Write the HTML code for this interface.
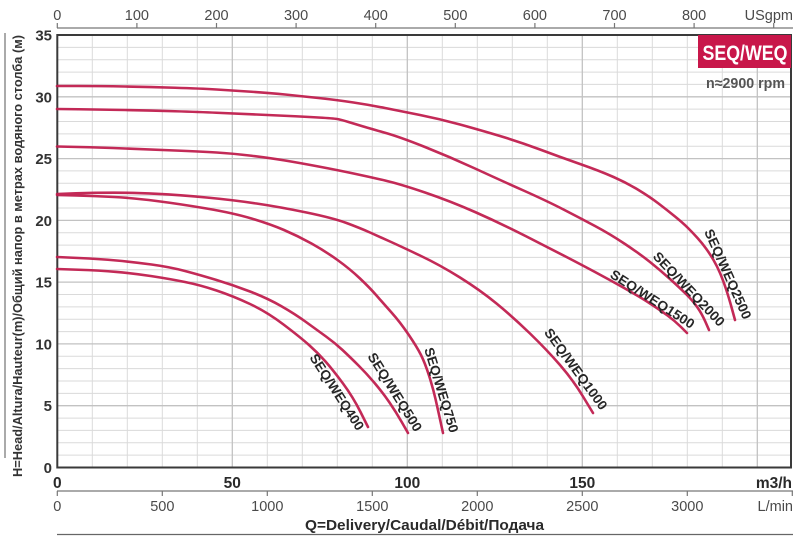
<!DOCTYPE html>
<html><head><meta charset="utf-8"><style>
html,body{margin:0;padding:0;background:#fff;}
svg{display:block;}
text{font-family:"Liberation Sans",sans-serif;}
</style></head><body>
<svg width="800" height="538" viewBox="0 0 800 538" xmlns="http://www.w3.org/2000/svg">
<rect x="0" y="0" width="800" height="538" fill="#fff"/>
<!-- minor grid -->
<g stroke="#dadada" stroke-width="1" fill="none">
<path d="M57 455.1H791M57 442.8H791M57 430.4H791M57 418.1H791M57 393.4H791M57 381H791M57 368.6H791M57 356.3H791M57 331.6H791M57 319.2H791M57 306.9H791M57 294.5H791M57 269.8H791M57 257.4H791M57 245.1H791M57 232.7H791M57 208H791M57 195.6H791M57 183.3H791M57 170.9H791M57 146.2H791M57 133.9H791M57 121.5H791M57 109.1H791M57 84.4H791M57 72.1H791M57 59.7H791M57 47.4H791"/>
<path d="M92.3 35V467.5M127.3 35V467.5M162.3 35V467.5M197.3 35V467.5M267.3 35V467.5M302.3 35V467.5M337.3 35V467.5M372.3 35V467.5M442.3 35V467.5M477.3 35V467.5M512.3 35V467.5M547.3 35V467.5M617.3 35V467.5M652.3 35V467.5M687.3 35V467.5M722.3 35V467.5"/>
</g>
<g stroke="#c2c2c2" stroke-width="1.3" fill="none">
<path d="M57 405.7H791M57 343.9H791M57 282.1H791M57 220.4H791M57 158.6H791M57 96.8H791"/>
<path d="M232.3 35V467.5M407.3 35V467.5M582.3 35V467.5M757.3 35V467.5"/>
</g>
<!-- frame -->
<rect x="57.3" y="35" width="733.7" height="432.5" fill="none" stroke="#3a3a3a" stroke-width="2"/>

<!-- title box -->
<rect x="698" y="35" width="93" height="33" fill="#c8174a"/>
<text x="745" y="60" fill="#fff" font-size="21" font-weight="bold" text-anchor="middle" textLength="85" lengthAdjust="spacingAndGlyphs">SEQ/WEQ</text>
<text x="785" y="88" fill="#555" font-size="15" font-weight="bold" text-anchor="end" textLength="79" lengthAdjust="spacingAndGlyphs">n≈2900 rpm</text>

<!-- curves -->
<g fill="none" stroke="#c01f4f" stroke-width="2.6" stroke-linejoin="round" stroke-linecap="round" opacity="0.95">
<path d="M57,86 L78.5,86 Q100,86 125,86.5 Q150,87 175,87.75 Q200,88.5 216.5,89.5 Q233,90.5 251.5,91.75 Q270,93 285,94.5 Q300,96 318.5,98 Q337,100 353.5,102.5 Q370,105 385,108 Q400,111 420,115 Q440,119 460,124.5 Q480,130 500,136 Q520,142 540,149.5 Q560,157 580,164 Q600,171 613.5,177 Q627,183 638.5,190 Q650,197 658.5,203.5 Q667,210 675,216.5 Q683,223 688,228 Q693,233 697.5,238 Q702,243 706,248.5 Q710,254 713.5,260 Q717,266 720,273 Q723,280 726,289 Q729,298 732,309 L735,320"/>
<path d="M57,109 L78.5,109.25 Q100,109.5 125,110 Q150,110.5 175,111.25 Q200,112 216.5,112.75 Q233,113.5 256.5,114.5 Q280,115.5 295,116.25 Q310,117 322.5,117.75 Q335,118.5 338.5,119.25 Q342,120 348.5,122 Q355,124 362.5,126.25 Q370,128.5 385,132.75 Q400,137 425,147 Q450,157 475,168.5 Q500,180 523.5,190.5 Q547,201 563.5,209.5 Q580,218 595,226 Q610,234 625,244 Q640,254 650,262 Q660,270 670,279 Q680,288 686.5,294.5 Q693,301 697.5,307.5 Q702,314 705.5,322 L709,330"/>
<path d="M57,146.5 L78.5,147 Q100,147.5 125,148.5 Q150,149.5 175,150.5 Q200,151.5 216.5,152.5 Q233,153.5 251.5,155.75 Q270,158 285,160.5 Q300,163 318.5,166.5 Q337,170 353.5,173.5 Q370,177 385,180.5 Q400,184 425,192.5 Q450,201 475,212 Q500,223 526.5,236.5 Q553,250 566.5,257 Q580,264 595,272 Q610,280 625,288.5 Q640,297 650,303.5 Q660,310 667.5,315.5 Q675,321 681,327 L687,333"/>
<path d="M57,194 L76,193.35 Q95,192.7 114,192.7 Q133,192.7 156.5,193.85 Q180,195 206.5,197.5 Q233,200 256.5,203.5 Q280,207 306.5,212.5 Q333,218 346.5,223 Q360,228 370,232.5 Q380,237 390,241.5 Q400,246 420,255.5 Q440,265 460,277.5 Q480,290 496.5,303.5 Q513,317 530,333.5 Q547,350 560,365 Q573,380 583,396.5 L593,413"/>
<path d="M57,195 L76,195.5 Q95,196 114,197 Q133,198 156.5,201 Q180,204 206.5,208.5 Q233,213 251.5,218.5 Q270,224 284,230 Q298,236 311.5,243.5 Q325,251 337.5,260 Q350,269 360,278.5 Q370,288 376.5,295.5 Q383,303 391.5,312.5 Q400,322 408.5,334.5 Q417,347 421,355 Q425,363 429,375.5 Q433,388 435.5,399 Q438,410 440.5,421.5 L443,433"/>
<path d="M57,257 L78.5,258 Q100,259 116.5,260.5 Q133,262 151.5,264.5 Q170,267 185,271 Q200,275 216.5,280 Q233,285 250,291.5 Q267,298 281,306 Q295,314 306,322 Q317,330 326,336.5 Q335,343 342.5,350 Q350,357 358.5,365.5 Q367,374 375,383.5 Q383,393 389.5,402.5 Q396,412 402,422.5 L408,433"/>
<path d="M57,269 L78.5,269.75 Q100,270.5 116.5,271.9 Q133,273.3 151.5,276.15 Q170,279 185,282 Q200,285 216.5,290.5 Q233,296 250,304 Q267,312 283.5,324.5 Q300,337 309,345 Q318,353 325.5,361.5 Q333,370 343,383.5 Q353,397 360.5,412 L368,427"/>
</g>

<!-- curve labels -->
<g fill="#262626" font-size="13.5" font-weight="bold" text-anchor="middle">
<text transform="translate(337,392) rotate(57)" dy="0.35em" textLength="88" lengthAdjust="spacingAndGlyphs">SEQ/WEQ400</text>
<text transform="translate(395,392) rotate(58)" dy="0.35em" textLength="90" lengthAdjust="spacingAndGlyphs">SEQ/WEQ500</text>
<text transform="translate(441.5,390) rotate(73)" dy="0.35em" textLength="88" lengthAdjust="spacingAndGlyphs">SEQ/WEQ750</text>
<text transform="translate(576,369) rotate(54)" dy="0.35em" textLength="97" lengthAdjust="spacingAndGlyphs">SEQ/WEQ1000</text>
<text transform="translate(652.5,299) rotate(32.6)" dy="0.35em" textLength="97" lengthAdjust="spacingAndGlyphs">SEQ/WEQ1500</text>
<text transform="translate(689,289) rotate(46.4)" dy="0.35em" textLength="97" lengthAdjust="spacingAndGlyphs">SEQ/WEQ2000</text>
<text transform="translate(728,274) rotate(66)" dy="0.35em" textLength="97" lengthAdjust="spacingAndGlyphs">SEQ/WEQ2500</text>
</g>

<!-- left axis labels -->
<g fill="#333" font-size="15" font-weight="bold" text-anchor="end">
<text x="52" y="40.5">35</text>
<text x="52" y="102.3">30</text>
<text x="52" y="164.1">25</text>
<text x="52" y="225.9">20</text>
<text x="52" y="287.6">15</text>
<text x="52" y="349.4">10</text>
<text x="52" y="411.2">5</text>
<text x="52" y="473">0</text>
</g>
<line x1="5" y1="33" x2="5" y2="458" stroke="#555" stroke-width="1"/>
<text transform="translate(22,256) rotate(-90)" fill="#333" font-size="13" font-weight="bold" text-anchor="middle" textLength="442" lengthAdjust="spacingAndGlyphs">H=Head/Altura/Hauteur(m)/Общий напор в метрах водяного столба (м)</text>

<!-- top axis USgpm -->
<line x1="57" y1="28" x2="793" y2="28" stroke="#777" stroke-width="1.2"/>
<g stroke="#777" stroke-width="1.2">
<path d="M57.3 28V23M136.9 28V23M216.5 28V23M296.1 28V23M375.7 28V23M455.3 28V23M534.9 28V23M614.5 28V23M694.1 28V23M773.7 28V23"/>
</g>
<g fill="#4a4a4a" font-size="14.5" text-anchor="middle">
<text x="57.3" y="20">0</text>
<text x="136.9" y="20">100</text>
<text x="216.5" y="20">200</text>
<text x="296.1" y="20">300</text>
<text x="375.7" y="20">400</text>
<text x="455.3" y="20">500</text>
<text x="534.9" y="20">600</text>
<text x="614.5" y="20">700</text>
<text x="694.1" y="20">800</text>
<text x="793" y="20" text-anchor="end">USgpm</text>
</g>

<!-- m3/h labels -->
<g fill="#2a2a2a" font-size="15.5" font-weight="bold" text-anchor="middle">
<text x="57.3" y="488">0</text>
<text x="232.3" y="488">50</text>
<text x="407.3" y="488">100</text>
<text x="582.3" y="488">150</text>
<text x="792" y="488" text-anchor="end">m3/h</text>
</g>

<!-- L/min axis -->
<line x1="57" y1="491" x2="793" y2="491" stroke="#777" stroke-width="1.2"/>
<g stroke="#777" stroke-width="1.2">
<path d="M57.3 491V496M162.3 491V496M267.3 491V496M372.3 491V496M477.3 491V496M582.3 491V496M687.3 491V496M792.3 491V496"/>
</g>
<g fill="#4a4a4a" font-size="14.5" text-anchor="middle">
<text x="57.3" y="511">0</text>
<text x="162.3" y="511">500</text>
<text x="267.3" y="511">1000</text>
<text x="372.3" y="511">1500</text>
<text x="477.3" y="511">2000</text>
<text x="582.3" y="511">2500</text>
<text x="687.3" y="511">3000</text>
<text x="793" y="511" text-anchor="end">L/min</text>
</g>
<text x="424.5" y="530" fill="#2a2a2a" font-size="15" font-weight="bold" text-anchor="middle" textLength="239" lengthAdjust="spacingAndGlyphs">Q=Delivery/Caudal/Débit/Подача</text>
<line x1="57" y1="534.5" x2="793" y2="534.5" stroke="#666" stroke-width="1.2"/>
</svg>
</body></html>
